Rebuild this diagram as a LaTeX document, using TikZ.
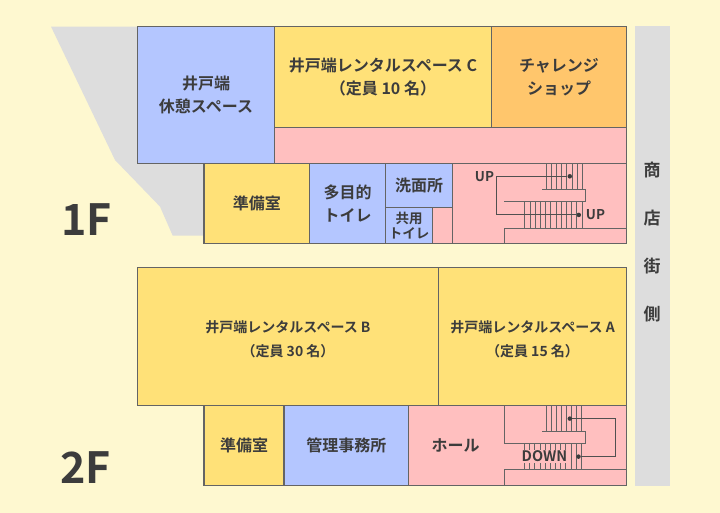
\documentclass[tikz,border=0pt]{standalone}
\usepackage{fontspec}
\setmainfont{Noto Sans CJK JP Medium}[BoldFont={Noto Sans CJK JP Bold}]
\definecolor{bgc}{HTML}{FEF8D0}
\definecolor{bluec}{HTML}{B4C6FF}
\definecolor{yelc}{HTML}{FFE178}
\definecolor{orac}{HTML}{FFC66C}
\definecolor{pinc}{HTML}{FFBFBF}
\definecolor{grayc}{HTML}{DDDDDD}
\definecolor{inkc}{HTML}{3C3C3C}
\definecolor{linec}{HTML}{646464}
\tikzset{
  room/.style={draw=linec,line width=1.1pt,anchor=north west,inner sep=0pt,outer sep=0pt,text=inkc,align=center,font=\fontsize{16}{23}\selectfont\bfseries},
  smalltext/.style={font=\fontsize{14}{24}\selectfont\bfseries},
  tinytext/.style={font=\fontsize{13.5}{15}\selectfont\bfseries},
  floorlabel/.style={text=inkc,font=\fontsize{43}{43}\selectfont\bfseries,inner sep=0pt},
  stairlab/.style={text=inkc,font=\fontsize{13.5}{13.5}\selectfont\bfseries,inner sep=0pt},
  streetlab/.style={text=inkc,font=\fontsize{17}{17}\selectfont\bfseries,inner sep=0pt},
  stairline/.style={draw=linec,line width=1pt},
  walkline/.style={draw=inkc!90!white,line width=1pt},
  stairdot/.style={circle,fill=inkc,minimum size=4.5pt,inner sep=0pt},
}
\newcommand{\myroom}[7][]{\node[room,fill=#2,minimum width=#5pt,minimum height=#6pt,#1] (#7) at (#3,#4)}
\begin{document}
\begin{tikzpicture}[x=1pt,y=-1pt]
\useasboundingbox (0.5,0.4) rectangle (720.5,512.4);
\fill[bgc] (0,0) rectangle (721,513);
% street and site
\fill[grayc] (635,26.4) rectangle (670.5,486.4);
\fill[grayc] (51.5,27) -- (138,27) -- (138,163.5) -- (204.5,163.5) -- (204.5,236) -- (173.2,236) -- (160.5,207) -- (115.5,160.4) -- cycle;
% 1F
\myroom{bluec}{138}{27}{137}{136.5}{lounge} {井戸端\\休憩スペース};
\myroom{pinc}{275}{128}{352}{36}{corridor} {};
\myroom{yelc}{275}{27}{217}{101}{spaceC} {井戸端レンタルスペース C\\（定員 10 名）};
\myroom{orac}{492}{27}{135}{101}{shop} {チャレンジ\\ショップ};
\myroom{yelc}{204.5}{164}{105.5}{80}{prep1} {準備室};
\myroom{bluec}{310}{164}{76}{80}{wc} {多目的\\トイレ};
\myroom{bluec}{386}{164}{67}{44}{wash} {洗面所};
\myroom[tinytext]{bluec}{386}{208}{47}{36}{sharedwc} {共用\\トイレ};
\myroom{pinc}{433}{208}{20}{36}{closet} {};
\myroom{pinc}{453}{164}{174}{80}{stair1} {};
% 1F stairs
\foreach \x in {546.5,551.7,556.9,562.1,567.3,572.5,577.7,582.7}
  \draw[stairline] (\x,164) -- (\x,189.5);
\foreach \x in {525.3,530.5,535.7,540.9,546.1,551.3,556.5,561.7,566.9,572.1,577.4,582.7}
  \draw[stairline] (\x,201.5) -- (\x,228.5);
\draw[stairline] (542.7,189.5) -- (586,189.5) -- (586,201.5) -- (504.3,201.5);
\draw[stairline] (504.5,244) -- (504.5,228.5) -- (627,228.5);
\node[stairdot] (dot1a) at (570.3,176.7) {};
\node[stairdot] (dot1b) at (579.3,215.3) {};
\draw[walkline] (dot1a) -- (497.3,176.7) -- (497.3,215.3) -- (dot1b);
\node[stairlab] (up1a) at (485,176.5) {UP};
\node[stairlab] (up1b) at (596,214.5) {UP};
% 2F
\myroom[smalltext]{yelc}{138}{268}{301}{137.5}{spaceB} {\rule{0pt}{17pt}井戸端レンタルスペース B\\（定員 30 名）};
\myroom[smalltext]{yelc}{439}{268}{188}{137.5}{spaceA} {\rule{0pt}{17pt}井戸端レンタルスペース A\\（定員 15 名）};
\myroom{yelc}{204.5}{405.5}{80}{80}{prep2} {準備室};
\myroom{bluec}{284.5}{405.5}{124.5}{80}{office} {管理事務所};
\myroom{pinc}{409}{405.5}{218}{80}{hall} {};
\node[text=inkc,font=\fontsize{16}{16}\selectfont\bfseries,inner sep=0pt] (halltext) at (456,446) {ホール};
% 2F stairs
\foreach \x in {546.7,551.8,556.9,562,567,572,577,582}
  \draw[stairline] (\x,405.5) -- (\x,431.7);
\foreach \x in {525,530.2,535.3,540.5,545.7,550.9,556,561.2,566.4,571.6,576.8,582}
  \draw[stairline] (\x,443.7) -- (\x,470.3);
\draw[stairline] (542.7,431.7) -- (586.3,431.7) -- (586.3,443.7) -- (504.7,443.7) -- (504.7,405.5);
\draw[stairline] (504.7,485.5) -- (504.7,470.3) -- (627,470.3);
\node[stairdot] (dot2a) at (570.3,419) {};
\node[stairdot] (dot2b) at (579,457) {};
\draw[walkline] (dot2a) -- (616,419) -- (616,457) -- (dot2b);
\node[stairlab,font=\fontsize{14.5}{14.5}\selectfont\bfseries,fill=pinc,inner xsep=0.5pt,inner ysep=1pt] (down) at (545,457) {DOWN};
% labels
\node[floorlabel] (f1) at (87,220) {1F};
\node[floorlabel] (f2) at (86,468) {2F};
\node[streetlab] (s1) at (652.5,170) {商};
\node[streetlab] (s2) at (652.5,218) {店};
\node[streetlab] (s3) at (652.5,266) {街};
\node[streetlab] (s4) at (652.5,314) {側};
\end{tikzpicture}
\end{document}
